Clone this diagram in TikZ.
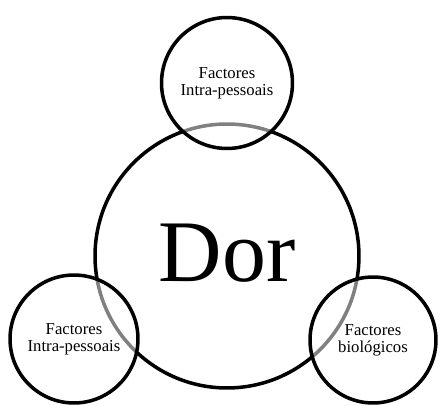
\documentclass[tikz,border=0pt]{standalone}
\usepackage{fontspec}
\setmainfont{Liberation Serif}

\tikzset{
  factor/.style={circle, draw=black, fill=white, fill opacity=0.5, text opacity=1,
    align=center, font=\fontsize{9.5}{9.5}\selectfont}
}

\begin{document}
\begin{tikzpicture}[x=0.02cm, y=-0.02cm, line width=2pt]
  \useasboundingbox (0,0) rectangle (441,406);
  \node[circle, draw=black, minimum size=5.28cm, text height=33pt, text depth=3.6pt,
    font=\fontsize{50}{60}\selectfont] (dor) at (227,256) {Dor};

  \node[factor, minimum size=2.62cm] (intra1) at (227,83) {Factores\\Intra-pessoais};
  \node[factor, minimum size=2.56cm] (intra2) at (74,339) {Factores\\Intra-pessoais};
  \node[factor, minimum size=2.52cm] (bio) at (373,340) {Factores\\biológicos};
\end{tikzpicture}
\end{document}
